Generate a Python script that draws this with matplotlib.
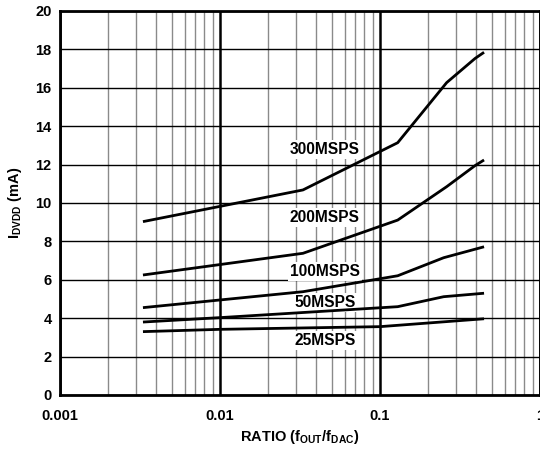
import numpy as np
import matplotlib
matplotlib.use("Agg")
import matplotlib.pyplot as plt
from matplotlib.ticker import FixedLocator, NullFormatter

plt.rcParams['font.family'] = ['Liberation Sans', 'DejaVu Sans']
plt.rcParams['font.weight'] = 'bold'
plt.rcParams['mathtext.fontset'] = 'custom'
plt.rcParams['mathtext.rm'] = 'Liberation Sans:bold'
plt.rcParams['mathtext.bf'] = 'Liberation Sans:bold'

# ratio f_OUT / f_DAC and I_DVDD (mA)
ratio_300 = [0.0033, 0.033, 0.129, 0.261, 0.393, 0.447]
idvdd_300 = [9.03, 10.68, 13.14, 16.27, 17.53, 17.85]

ratio_200 = [0.0033, 0.033, 0.129, 0.261, 0.393, 0.447]
idvdd_200 = [6.25, 7.38, 9.11, 10.85, 11.95, 12.24]

ratio_100 = [0.0033, 0.033, 0.129, 0.25, 0.447]
idvdd_100 = [4.55, 5.38, 6.21, 7.15, 7.72]

ratio_50 = [0.0033, 0.01, 0.129, 0.25, 0.447]
idvdd_50 = [3.80, 4.03, 4.60, 5.12, 5.30]

ratio_25 = [0.0033, 0.01, 0.1, 0.447]
idvdd_25 = [3.30, 3.42, 3.56, 3.97]

series = [
    (ratio_300, idvdd_300, "300MSPS", 12.77),
    (ratio_200, idvdd_200, "200MSPS", 9.22),
    (ratio_100, idvdd_100, "100MSPS", 6.42),
    (ratio_50, idvdd_50, "50MSPS", 4.81),
    (ratio_25, idvdd_25, "25MSPS", 2.83),
]
label_x = 0.0453

fig = plt.figure(figsize=(5.40, 4.51), dpi=100)
ax = fig.add_axes([60 / 540, 1 - 395 / 451, 480 / 540, 384 / 451])

ax.set_xscale('log')
ax.set_xlim(0.001, 1)
ax.set_ylim(0, 20)

# grid: grey minor decades, black major
minor = [m * 10.0 ** e for e in (-3, -2, -1) for m in range(2, 10)]
ax.xaxis.set_minor_locator(FixedLocator(minor))
ax.xaxis.set_minor_formatter(NullFormatter())
ax.set_xticks([0.001, 0.01, 0.1, 1])
ax.set_xticklabels(["0.001", "0.01", "0.1", "1"])
ax.set_yticks(np.arange(0, 21, 2))
ax.grid(which='minor', axis='x', color='#8a8a8a', lw=1.0)
ax.grid(which='major', axis='x', color='black', lw=1.8)
ax.grid(which='major', axis='y', color='black', lw=1.0)
ax.set_axisbelow(True)

ax.tick_params(which='both', length=0, labelsize=10.5, pad=6)
ax.tick_params(axis='x', pad=10)
for s in ax.spines.values():
    s.set_linewidth(2.0)

for xs, ys, name, ly in series:
    ax.plot(xs, ys, color='black', lw=2.0, solid_capstyle='butt', zorder=2)
    ax.text(label_x, ly, name, ha='center', va='center', fontsize=11.2,
            fontweight='bold', zorder=1.8,
            bbox=dict(facecolor='white', edgecolor='none', pad=1.5))

ax.set_xlabel(r"RATIO (f$_{\mathrm{OUT}}$/f$_{\mathrm{DAC}}$)", fontsize=10.5,
              fontweight='bold', labelpad=4)
ax.set_ylabel(r"I$_{\mathrm{DVDD}}$ (mA)", fontsize=10.5, fontweight='bold',
              labelpad=8)

fig.savefig("out.png", dpi=100)
